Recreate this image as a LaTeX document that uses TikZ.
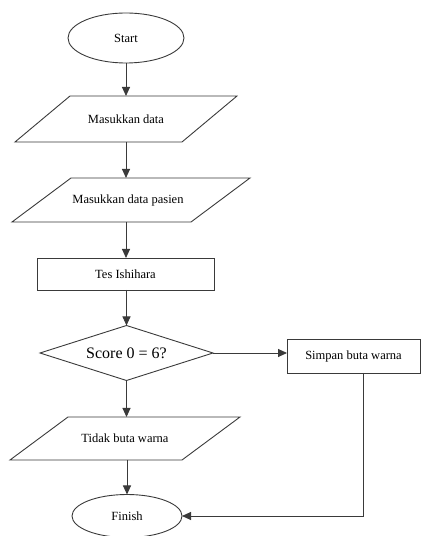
\documentclass[tikz,border=0pt]{standalone}
\usepackage{fontspec}
\setmainfont{Liberation Serif}
\usetikzlibrary{arrows.meta,shapes.geometric}
\definecolor{ln}{HTML}{3A3A3A}
\tikzset{
  base/.style={inner sep=0pt, outer sep=0pt, font=\fontsize{12.5}{14}\selectfont, text=black},
  term/.style={base, ellipse, draw=ln, line width=0.9pt},
  proc/.style={base, rectangle, draw=ln, line width=0.9pt},
  io/.style={base, rectangle, draw=none},
  dec/.style={base, diamond, draw=ln, line width=0.9pt, aspect=3.15},
  conn/.style={draw=ln, line width=0.9pt, -{Triangle[length=9pt,width=8pt]}},
  plain/.style={draw=ln, line width=0.9pt}
}
\begin{document}
\begin{tikzpicture}[x=1pt,y=1pt]
\useasboundingbox (0,0) rectangle (422,536);
% nodes
\node[term, minimum width=116pt, minimum height=50pt] (start) at (126,498) {Start};
\node[io, minimum width=167pt, minimum height=46pt] (p1) at (126,417) {Masukkan data};
\node[io, minimum width=179pt, minimum height=44pt] (p2) at (131,336) {\hspace*{-6pt}Masukkan data pasien};
\node[proc, minimum width=177pt, minimum height=32pt] (tes) at (125.5,262) {Tes Ishihara};
\node[dec, minimum width=173pt, minimum height=55pt, font=\fontsize{16}{18}\selectfont] (dec) at (126.5,183) {Score 0 = 6?};
\node[proc, minimum width=133pt, minimum height=34pt] (simpan) at (353.5,180) {Simpan buta warna};
\node[io, minimum width=172pt, minimum height=43pt] (p3) at (125,97.5) {Tidak buta warna};
\node[term, minimum width=110pt, minimum height=43pt] (finish) at (127,20) {Finish};
% parallelogram outlines
\draw[plain] ([xshift=27.5pt]p1.north west) -- ([xshift=27.5pt]p1.north east) -- ([xshift=-27.5pt]p1.south east) -- ([xshift=-27.5pt]p1.south west) -- cycle;
\draw[plain] ([xshift=29.5pt]p2.north west) -- ([xshift=29.5pt]p2.north east) -- ([xshift=-29.5pt]p2.south east) -- ([xshift=-29.5pt]p2.south west) -- cycle;
\draw[plain] ([xshift=29pt]p3.north west) -- ([xshift=29pt]p3.north east) -- ([xshift=-29pt]p3.south east) -- ([xshift=-29pt]p3.south west) -- cycle;
% connectors
\draw[conn] (start.south) -- (start.south |- p1.north);
\draw[conn] (p1.south) -- (p1.south |- p2.north);
\draw[conn] (p1.south |- p2.south) -- (p1.south |- tes.north);
\draw[conn] (tes.south -| dec.north) -- (dec.north);
\draw[conn] (dec.east) -- (dec.east -| simpan.west);
\draw[conn] (dec.south) -- (dec.south |- p3.north);
\draw[conn] (finish.north |- p3.south) -- (finish.north);
\draw[conn] ([xshift=9.5pt]simpan.south) |- (finish.east);
\end{tikzpicture}
\end{document}
